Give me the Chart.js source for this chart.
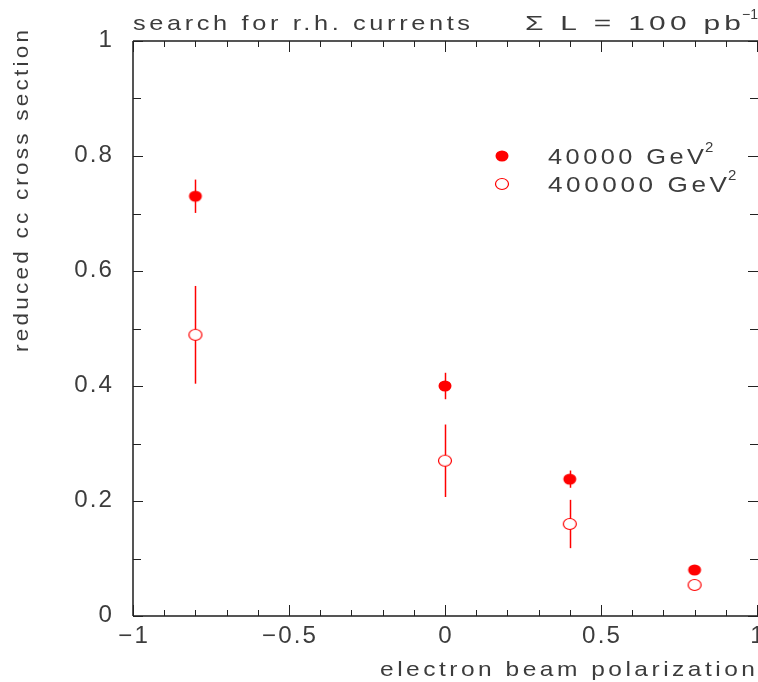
<!DOCTYPE html>
<html><head><meta charset="utf-8">
<script src="https://cdn.jsdelivr.net/npm/chart.js@4/dist/chart.umd.min.js"></script>
<style>html,body{margin:0;padding:0;background:#fff}#wrap{width:758px;height:682px}</style>
</head><body><div id="wrap"><canvas id="c" width="758" height="682"></canvas></div>
<script>
// ---- data ----
const polarization = [-0.8, 0, 0.4, 0.8];
const xsec40k = [0.730, 0.400, 0.238, 0.080];
const err40k = [0.029, 0.023, 0.015, 0.008];
const xsec400k = [0.489, 0.270, 0.160, 0.054];
const err400k = [0.085, 0.063, 0.042, 0.005];
const xTickValues = [-1, -0.5, 0, 0.5, 1];
const xTickLabels = ['\u22121', '\u22120.5', '0', '0.5', '1'];
const yTickValues = [0, 0.2, 0.4, 0.6, 0.8, 1];
const yTickLabels = ['0', '0.2', '0.4', '0.6', '0.8', '1'];
const seriesNames = ['40000 GeV', '400000 GeV'];
const titleLeft = 'search for r.h. currents';
const titleRight = '\u03A3 L = 100 pb';
const xTitle = 'electron beam polarization';
const yTitle = 'reduced cc cross section';

const RED = '#ff0000';
const TXT = '#3c3c3c';
const FONT = '"Liberation Sans", Arial, sans-serif';

// draws text stretched horizontally to fill width w
function fitText(ctx, text, x, y, w, align, size, ls0) {
  ctx.save();
  ctx.font = size + 'px ' + FONT;
  ls0 = ls0 === undefined ? 3 : ls0;
  ctx.letterSpacing = ls0 + 'px';
  const m = ctx.measureText(text).width - ls0;
  const sx = w / m;
  ctx.textBaseline = 'middle';
  ctx.textAlign = 'left';
  let x0 = x;
  if (align === 'right') x0 = x - w;
  else if (align === 'center') x0 = x - w / 2;
  ctx.translate(x0, y);
  ctx.scale(sx, 1);
  ctx.fillText(text, 0, 0);
  ctx.restore();
}
function plainText(ctx, text, x, y, align, size, ls, sx) {
  ctx.save();
  ctx.font = size + 'px ' + FONT;
  ls = ls || 0; sx = sx || 1;
  ctx.letterSpacing = ls + 'px';
  ctx.textBaseline = 'middle';
  ctx.textAlign = 'left';
  const w = (ctx.measureText(text).width - ls) * sx;
  let x0 = x;
  if (align === 'right') x0 = x - w;
  else if (align === 'center') x0 = x - w / 2;
  ctx.translate(x0, y);
  ctx.scale(sx, 1);
  ctx.fillText(text, 0, 0);
  ctx.restore();
}

const errPlugin = {
  id: 'errbars',
  beforeDatasetsDraw(chart) {
    const ctx = chart.ctx, xs = chart.scales.x, ys = chart.scales.y;
    ctx.save();
    ctx.strokeStyle = RED; ctx.lineWidth = 1.5;
    const sets = [[xsec40k, err40k], [xsec400k, err400k]];
    sets.forEach(([v, e]) => {
      polarization.forEach((p, i) => {
        const px = Math.round(xs.getPixelForValue(p)) + 0.5;
        ctx.beginPath();
        ctx.moveTo(px, ys.getPixelForValue(v[i] - e[i]));
        ctx.lineTo(px, ys.getPixelForValue(v[i] + e[i]));
        ctx.stroke();
      });
    });
    ctx.restore();
  }
};

const framePlugin = {
  id: 'frame',
  afterDraw(chart) {
    const ctx = chart.ctx, xs = chart.scales.x, ys = chart.scales.y;
    const a = chart.chartArea;
    ctx.save();
    // axis lines
    ctx.strokeStyle = '#555'; ctx.lineWidth = 2;
    ctx.beginPath();
    ctx.moveTo(a.left, a.top); ctx.lineTo(a.right + 2, a.top);
    ctx.moveTo(a.left, a.top); ctx.lineTo(a.left, a.bottom);
    ctx.moveTo(a.left, a.bottom); ctx.lineTo(a.right + 2, a.bottom);
    ctx.stroke();
    // ticks
    ctx.strokeStyle = '#222'; ctx.lineWidth = 1;
    ctx.beginPath();
    for (let k = -10; k <= 10; k++) {
      const v = k / 10;
      const px = Math.round(xs.getPixelForValue(v)) + 0.5;
      const len = (k % 5 === 0) ? 11 : 6;
      ctx.moveTo(px, a.bottom); ctx.lineTo(px, a.bottom - len);
      ctx.moveTo(px, a.top); ctx.lineTo(px, a.top + len);
    }
    for (let k = 0; k <= 10; k++) {
      const v = k / 10;
      const py = Math.round(ys.getPixelForValue(v)) + 0.5;
      const len = (k % 2 === 0) ? 10 : 8;
      ctx.moveTo(a.left, py); ctx.lineTo(a.left + len, py);
      ctx.moveTo(a.right + 1, py); ctx.lineTo(a.right + 1 - len, py);
    }
    ctx.stroke();
    ctx.fillStyle = TXT;
    // x tick labels
    xTickValues.forEach((v, i) => {
      const px = xs.getPixelForValue(v);
      plainText(ctx, xTickLabels[i], px, 637, 'center', 23, 2, 1.05);
    });
    // y tick labels
    yTickValues.forEach((v, i) => {
      const py = ys.getPixelForValue(v);
      plainText(ctx, yTickLabels[i], 112, py, 'right', 23, 2, 1.05);
    });
    // titles
    fitText(ctx, titleLeft, 133, 24, 337, 'left', 21);
    fitText(ctx, titleRight, 741, 24, 216, 'right', 21);
    plainText(ctx, '\u22121', 742, 15, 'left', 14, 0);
    fitText(ctx, xTitle, 755, 670, 375, 'right', 21);
    ctx.save();
    ctx.translate(22, 191);
    ctx.rotate(-Math.PI / 2);
    fitText(ctx, yTitle, 0, 0, 322, 'center', 21);
    ctx.restore();
    // legend
    const ly = [156, 184];
    ly.forEach((y, i) => {
      ctx.beginPath();
      ctx.ellipse(502, y, 6.5, 5.5, 0, 0, Math.PI * 2);
      if (i === 0) { ctx.fillStyle = RED; ctx.fill(); }
      else { ctx.fillStyle = '#fff'; ctx.fill(); ctx.strokeStyle = RED; ctx.lineWidth = 1.2; ctx.stroke(); }
      ctx.fillStyle = TXT;
    });
    fitText(ctx, seriesNames[0], 548, 158, 156, 'left', 22);
    plainText(ctx, '2', 705, 148, 'left', 15, 0);
    fitText(ctx, seriesNames[1], 548, 186, 179, 'left', 22);
    plainText(ctx, '2', 728, 176, 'left', 15, 0);
    ctx.restore();
  }
};

const ellipse = (filled) => {
  const c = document.createElement('canvas');
  c.width = 16; c.height = 14;
  const g = c.getContext('2d');
  g.beginPath();
  g.ellipse(8, 7, 6.5, 5.5, 0, 0, Math.PI * 2);
  if (filled) { g.fillStyle = RED; g.fill(); }
  else { g.fillStyle = '#fff'; g.fill(); g.strokeStyle = RED; g.lineWidth = 1.2; g.stroke(); }
  return c;
};

new Chart(document.getElementById('c'), {
  type: 'scatter',
  data: {
    datasets: [
      { label: seriesNames[0], data: polarization.map((p, i) => ({ x: p, y: xsec40k[i] })),
        pointStyle: ellipse(true), pointRadius: 7 },
      { label: seriesNames[1], data: polarization.map((p, i) => ({ x: p, y: xsec400k[i] })),
        pointStyle: ellipse(false), pointRadius: 7 }
    ]
  },
  options: {
    responsive: false, animation: false,
    layout: { autoPadding: false, padding: { left: 133, top: 41, right: 1, bottom: 66 } },
    plugins: { legend: { display: false }, tooltip: { enabled: false } },
    scales: {
      x: { type: 'linear', min: -1, max: 1, display: false },
      y: { type: 'linear', min: 0, max: 1, display: false }
    }
  },
  plugins: [errPlugin, framePlugin]
});
</script>
</body></html>
